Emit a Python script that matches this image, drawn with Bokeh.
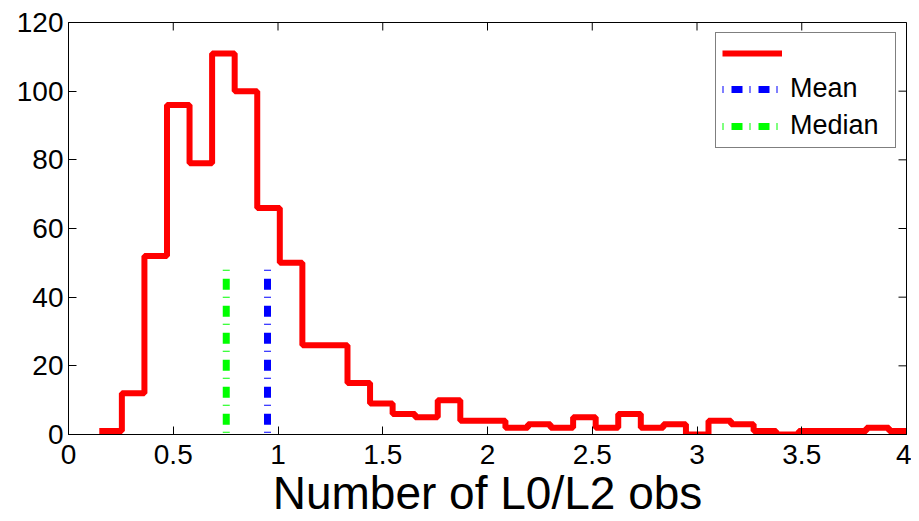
import numpy as np
from bokeh.plotting import figure
from bokeh.models import FixedTicker, Range1d, Legend, LegendItem
from bokeh.embed import file_html
from bokeh.resources import INLINE

# ---- data ----
bin_start = 0.147
bin_width = 0.1077
counts = [1, 12, 52, 96, 79, 111, 100, 66, 50, 26, 26, 15, 9, 6, 5, 10, 4, 4,
          2, 3, 2, 5, 2, 6, 2, 3, 0, 4, 3, 1, 0, 1, 1, 1, 2, 1]
mean_x = 0.950
median_x = 0.753
ref_height = 48
x_min, x_max = 0, 4
y_min, y_max = 0, 120
x_ticks = [0, 0.5, 1, 1.5, 2, 2.5, 3, 3.5, 4]
x_tick_labels = ["0", "0.5", "1", "1.5", "2", "2.5", "3", "3.5", "4"]
y_ticks = [0, 20, 40, 60, 80, 100, 120]
series_labels = [" ", "Mean", "Median"]
x_label = "Number of L0/L2 obs"

edges = bin_start + bin_width * np.arange(len(counts) + 1)
step_y = counts + [counts[-1]]

FONT = "Liberation Sans"

p = figure(width=911, height=521, output_backend="svg", toolbar_location=None,
           x_range=Range1d(x_min, x_max), y_range=Range1d(y_min, y_max),
           min_border_left=68, min_border_right=5, min_border_top=22,
           min_border_bottom=87)
p.background_fill_color = "white"
p.border_fill_color = "white"
p.outline_line_color = "black"
p.outline_line_width = 1
p.grid.visible = False

r_hist = p.step(x=list(edges), y=step_y, mode="after", line_color="#ff0000",
                line_width=6)
r_mean = p.line(x=[mean_x, mean_x], y=[ref_height, 0], line_color="#0000ff",
                line_width=7, line_dash="1 8 11 7")
r_med = p.line(x=[median_x, median_x], y=[ref_height, 0], line_color="#00ff00",
               line_width=7, line_dash="1 8 11 7")

# mirrored inward ticks on the top and right edges of the box
p.scatter(x=x_ticks, y=[y_max] * len(x_ticks), marker="dash", angle=np.pi / 2,
          size=16, line_color="black", line_width=1)
p.scatter(x=[x_max] * len(y_ticks), y=y_ticks, marker="dash",
          size=16, line_color="black", line_width=1)

def style_axis(ax):
    ax.major_tick_in = 8
    ax.major_tick_out = 0
    ax.minor_tick_in = 0
    ax.minor_tick_out = 0
    ax.axis_line_color = "black"
    ax.axis_line_width = 1
    ax.major_tick_line_color = "black"
    ax.major_label_text_font = FONT
    ax.major_label_text_color = "black"
    ax.major_label_text_font_size = "28px"

xa = p.xaxis[0]
xa.ticker = FixedTicker(ticks=x_ticks)
xa.major_label_overrides = {t: l for t, l in zip(x_ticks, x_tick_labels)}
style_axis(xa)
xa.major_label_standoff = 10
xa.axis_label = x_label
xa.axis_label_text_font = FONT
xa.axis_label_text_font_size = "46px"
xa.axis_label_text_font_style = "normal"
xa.axis_label_text_color = "black"
xa.axis_label_standoff = 0

ya = p.yaxis[0]
ya.ticker = FixedTicker(ticks=y_ticks)
style_axis(ya)
ya.major_label_standoff = 5

legend = Legend(items=[LegendItem(label=series_labels[0], renderers=[r_hist]),
                       LegendItem(label=series_labels[1], renderers=[r_mean]),
                       LegendItem(label=series_labels[2], renderers=[r_med])],
                location="top_right")
legend.margin = 10
legend.padding = 6
legend.spacing = 6
legend.glyph_width = 60
legend.glyph_height = 28
legend.label_height = 28
legend.label_width = 99
legend.label_standoff = 8
legend.label_text_font = FONT
legend.label_text_font_size = "27px"
legend.label_text_color = "black"
legend.border_line_color = "black"
legend.border_line_width = 1
legend.background_fill_color = "white"
legend.background_fill_alpha = 1
p.add_layout(legend, "center")

open("out.html", "w").write(file_html(p, INLINE))
